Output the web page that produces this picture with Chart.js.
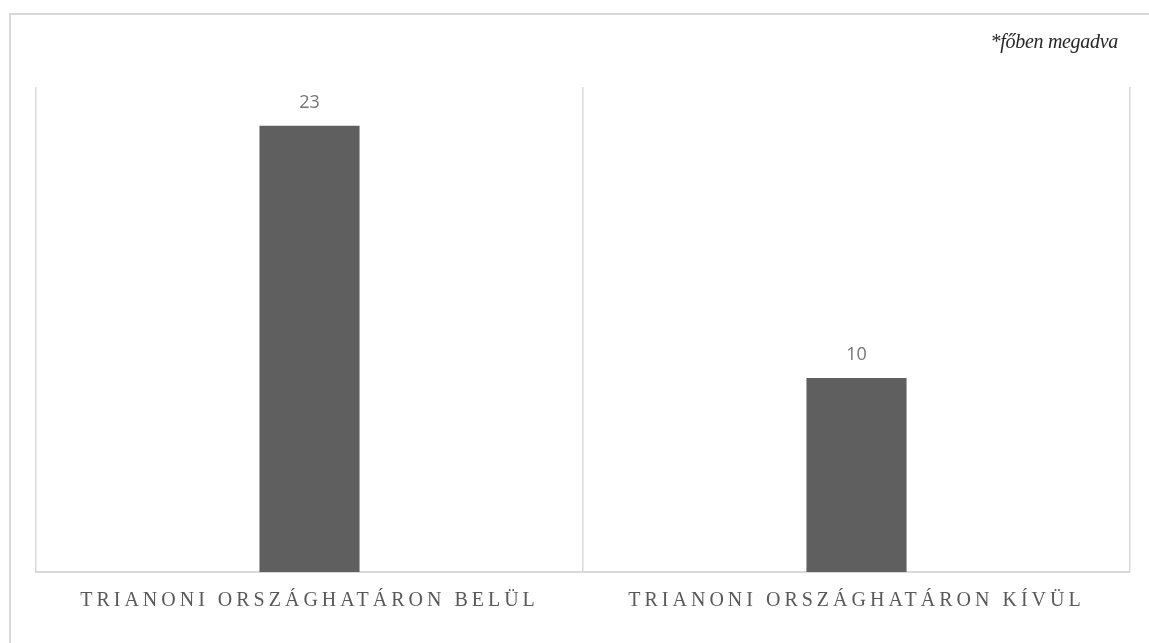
<!DOCTYPE html>
<html lang="hu">
<head>
<meta charset="utf-8">
<script src="https://cdn.jsdelivr.net/npm/chart.js@4"></script>
<style>
    html, body { margin: 0; padding: 0; width: 1149px; height: 643px; overflow: hidden; background: #fff; }
    .note { position: absolute; right: 31px; top: 31px; font-family: "Liberation Serif", "DejaVu Serif", serif; font-style: italic; font-size: 20px; line-height: 20px; letter-spacing: -0.3px; color: #262626; white-space: nowrap; }
    .wrap { position: absolute; left: 0; top: 0; width: 1149px; height: 643px; }
</style>
</head>
<body>
<div class="wrap"><canvas id="chart"></canvas></div>
<div class="note">*főben megadva</div>
<script>
const categories = ['TRIANONI ORSZÁGHATÁRON BELÜL', 'TRIANONI ORSZÁGHATÁRON KÍVÜL'];
const values = [23, 10];
const yMin = 0;
const yMax = 25;

const BAR_COLOR = '#5f5f5f';
const GRID_COLOR = '#d9d9d9';

// külső keret (csak felső és bal oldali él látszik)
const outerFrame = {
    id: 'outerFrame',
    beforeDraw(chart) {
        const ctx = chart.ctx;
        ctx.save();
        ctx.strokeStyle = GRID_COLOR;
        ctx.lineWidth = 2;
        ctx.beginPath();
        ctx.moveTo(10, chart.height);
        ctx.lineTo(10, 14);
        ctx.lineTo(chart.width, 14);
        ctx.stroke();
        ctx.restore();
    }
};

// címkék az oszlopok fölött
const valueLabels = {
    id: 'valueLabels',
    afterDatasetsDraw(chart) {
        const ctx = chart.ctx;
        const meta = chart.getDatasetMeta(0);
        ctx.save();
        ctx.letterSpacing = '0px';
        ctx.font = '18px "Open Sans", sans-serif';
        ctx.fillStyle = '#757575';
        ctx.textAlign = 'center';
        ctx.textBaseline = 'middle';
        meta.data.forEach((bar, i) => {
            ctx.fillText(String(values[i]), bar.x, bar.y - 23);
        });
        ctx.restore();
    }
};

// ritkított betűközű tengelyfeliratok
const spacedTicks = {
    id: 'spacedTicks',
    beforeDraw(chart) { chart.ctx.letterSpacing = '4px'; },
    beforeDatasetsDraw(chart) { chart.ctx.letterSpacing = '0px'; }
};

new Chart(document.getElementById('chart'), {
    type: 'bar',
    data: {
        labels: categories,
        datasets: [{
            data: values,
            backgroundColor: BAR_COLOR,
            categoryPercentage: 1,
            barPercentage: 0.183,
        }]
    },
    options: {
        responsive: true,
        maintainAspectRatio: false,
        animation: false,
        layout: { padding: { left: 36, right: 19, top: 87, bottom: 0 } },
        plugins: { legend: { display: false }, tooltip: { enabled: false } },
        scales: {
            x: {
                grid: { offset: true, color: GRID_COLOR, lineWidth: 1.5, drawTicks: false },
                border: { color: GRID_COLOR, width: 2 },
                ticks: {
                    autoSkip: false, maxRotation: 0, minRotation: 0, padding: 17,
                    color: '#595959',
                    font: { family: '"Liberation Serif", "Times New Roman", serif', size: 20 }
                },
                afterFit: (scale) => { scale.height = 71; }
            },
            y: { display: false, min: yMin, max: yMax }
        }
    },
    plugins: [outerFrame, valueLabels, spacedTicks]
});
</script>
</body>
</html>
